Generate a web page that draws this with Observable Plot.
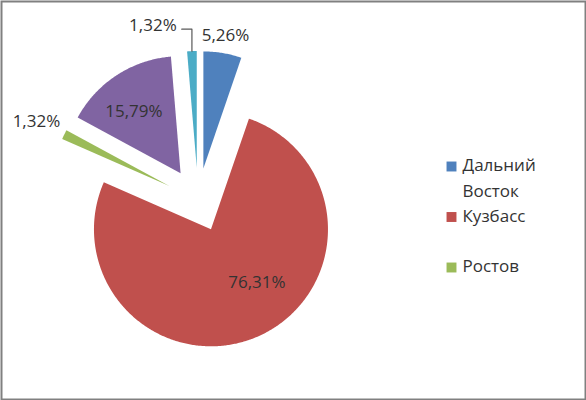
<!DOCTYPE html>
<html><head><meta charset="utf-8">
<script src="https://cdn.jsdelivr.net/npm/d3@7"></script>
<script src="https://cdn.jsdelivr.net/npm/@observablehq/plot@0.6"></script>
<style>body{margin:0;background:#fff} svg{display:block}</style>
</head><body><div id="chart"></div>
<script>
// ---- data ----
const categories = ["Дальний Восток", "Кузбасс", "Ростов", "Категория 4", "Категория 5"];
const shares = [5.26, 76.31, 1.32, 15.79, 1.32];
const colors = ["#4F81BD", "#C0504D", "#9BBB59", "#8064A2", "#4BACC6"];
const legendItems = ["Дальний Восток", "Кузбасс", "Ростов"];
const labelInside = [false, true, false, true, false];

// ---- layout ----
const W = 586, H = 400;
const cx = 197.6, cy = 199.5, R = 117, explode = 32;
const FONT = 17, FAMILY = "'Open Sans', sans-serif";
const total = d3.sum(shares);

let acc = 0;
const slices = categories.map((c, i) => {
  const a0 = acc / total * 2 * Math.PI; acc += shares[i];
  const a1 = acc / total * 2 * Math.PI;
  const mid = (a0 + a1) / 2;
  return {c, v: shares[i], i, a0, a1, mid,
    ox: cx + explode * Math.sin(mid), oy: cy - explode * Math.cos(mid)};
});

const pts = [];
for (const s of slices) {
  pts.push({c: s.c, x: s.ox, y: s.oy});
  const n = Math.max(4, Math.ceil((s.a1 - s.a0) / 0.01));
  for (let k = 0; k <= n; k++) {
    const a = s.a0 + (s.a1 - s.a0) * k / n;
    pts.push({c: s.c, x: s.ox + R * Math.sin(a), y: s.oy - R * Math.cos(a)});
  }
}

const ctx = document.createElement("canvas").getContext("2d");
ctx.font = `${FONT}px ${FAMILY}`;
const fmt = v => v.toFixed(2).replace(".", ",") + "%";

const labels = [], leaders = [], placed = [];
const halfH = 8;
for (const s of slices) {
  const text = fmt(s.v);
  const w = ctx.measureText(text).width;
  const sx = Math.sin(s.mid), sy = -Math.cos(s.mid);
  if (labelInside[s.i]) {
    // large slices: label pulled toward the wider, lower-right part of the slice
    const big = (s.a1 - s.a0) > Math.PI;
    const ang = big ? s.mid - 0.3 : s.mid - 0.07;
    const d = (big ? 0.6 : 0.66) * R;
    labels.push({text, x: s.ox + d * Math.sin(ang), y: s.oy - d * Math.cos(ang)});
    continue;
  }
  const d = R + 6 + (w / 2) * Math.abs(sx) + halfH * Math.abs(sy);
  let x = s.ox + d * sx, y = s.oy + d * sy;
  for (const p of placed) {
    const overlapX = Math.abs(x - p.x) < (w + p.w) / 2 + 4;
    const overlapY = Math.abs(y - p.y) < 2 * halfH + 2;
    if (overlapX && overlapY) {
      x = p.x - p.w / 2 - 25 - w / 2;
      y = y - halfH - 3;
      const ax = s.ox + R * sx, ay = s.oy + R * sy;
      const ly = y + 4;
      leaders.push({g: s.i, x: x + w / 2 + 5, y: ly});
      leaders.push({g: s.i, x: ax, y: ly});
      leaders.push({g: s.i, x: ax, y: ay});
    }
  }
  placed.push({x, y, w});
  labels.push({text, x, y});
}

const legendTop = 160, slot = 50.5;
const legend = legendItems.map((c, i) => ({c, y: legendTop + i * slot}));

const plot = Plot.plot({
  width: W, height: H, margin: 0,
  x: {domain: [0, W], range: [0, W], axis: null},
  y: {domain: [0, H], range: [0, H], axis: null},
  color: {domain: categories, range: colors},
  style: {fontFamily: FAMILY, fontSize: FONT + "px", background: "#fff"},
  marks: [
    Plot.line(pts, {x: "x", y: "y", z: "c", fill: "c", stroke: "none", curve: "linear-closed"}),
    Plot.line(leaders, {x: "x", y: "y", z: "g", stroke: "#595959", strokeWidth: 1.2}),
    Plot.text(labels, {x: "x", y: "y", text: "text", fill: "#333", fontSize: FONT}),
    Plot.dot(legend, {x: () => 451, y: d => d.y + 6, symbol: "square", r: 5.6, fill: "c", stroke: "none"}),
    Plot.text(legend, {x: () => 462, y: d => d.y - 7.5, text: "c", textAnchor: "start", lineAnchor: "top",
      lineWidth: 6, lineHeight: 1.5, fill: "#333", fontSize: FONT}),
    Plot.frame({stroke: "#808080", strokeWidth: 2, inset: 1})
  ]
});
document.getElementById("chart").appendChild(plot);
</script>
</body></html>
